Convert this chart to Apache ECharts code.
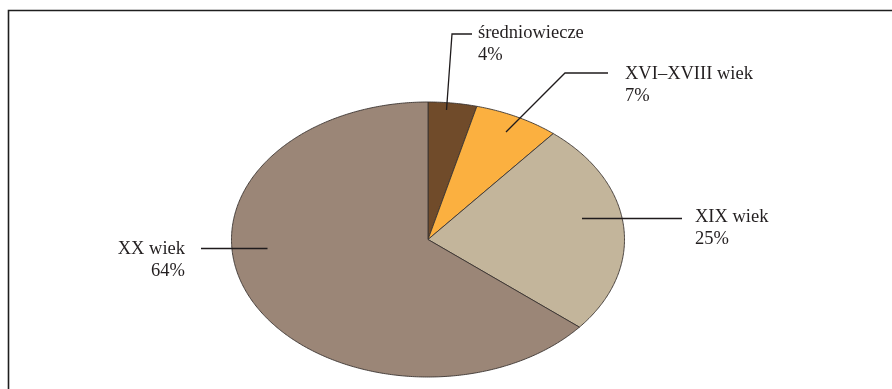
<!DOCTYPE html>
<html>
<head>
<meta charset="utf-8">
<script src="https://cdn.jsdelivr.net/npm/echarts@6/dist/echarts.min.js"></script>
<style>
  html, body { margin: 0; padding: 0; background: #fff; }
  #chart { width: 892px; height: 389px; }
</style>
</head>
<body>
<div id="chart"></div>
<script>
// dane (udział w %)
const names = ['średniowiecze', 'XVI–XVIII wiek', 'XIX wiek', 'XX wiek'];
const values = [4, 7, 25, 64];
const colors = ['#704b2a', '#fbb040', '#c3b59b', '#9b8677'];

// geometria elipsy
const cx = 428, cy = 239.5, rx = 196.5, ry = 137.5;

// rozmieszczenie etykiet (linie odniesienia + tekst)
const labelLayout = [
  { line: [[446.5, 110], [452, 34], [472, 34]], x: 478, y: 43, align: 'left' },
  { line: [[506, 132], [565, 73], [608, 73]], x: 625, y: 84, align: 'left' },
  { line: [[582, 218.5], [682, 218.5]], x: 695, y: 227, align: 'left' },
  { line: [[267.5, 248.5], [201, 248.5]], x: 185, y: 259, align: 'right' }
];

const total = values.reduce((a, b) => a + b, 0);
const cum = [0];
values.forEach((v, i) => cum.push(cum[i] + v));

function renderItem(params, api) {
  const i = params.dataIndex;
  const a0 = cum[i] / total * Math.PI * 2;
  const a1 = cum[i + 1] / total * Math.PI * 2;
  const steps = Math.max(6, Math.ceil((a1 - a0) / 0.01));
  const pts = [[cx, cy]];
  for (let k = 0; k <= steps; k++) {
    const a = a0 + (a1 - a0) * k / steps;
    pts.push([cx + rx * Math.sin(a), cy - ry * Math.cos(a)]);
  }
  return {
    type: 'polygon',
    shape: { points: pts },
    style: { fill: colors[i], stroke: '#3b3431', lineWidth: 0.9 }
  };
}

const font = '18.5px "Liberation Serif", "Times New Roman", serif';
const graphics = [
  {
    type: 'rect',
    shape: { x: 8.5, y: 10.5, width: 900, height: 400 },
    style: { fill: 'none', stroke: '#1e1e1e', lineWidth: 1.6 },
    silent: true
  }
];
labelLayout.forEach((lb, i) => {
  graphics.push({
    type: 'polyline',
    shape: { points: lb.line },
    style: { stroke: '#1f1b1c', lineWidth: 1.3, fill: 'none' },
    z: 10
  });
  [names[i], values[i] + '%'].forEach((t, j) => {
    graphics.push({
      type: 'text',
      x: lb.x,
      y: lb.y + j * 21.7,
      style: {
        text: t,
        font: font,
        fill: '#231f20',
        align: lb.align,
        verticalAlign: 'bottom'
      },
      z: 10
    });
  });
});

const myChart = echarts.init(document.getElementById('chart'), null, { renderer: 'canvas' });
const option = {
  animation: false,
  backgroundColor: '#fff',
  series: [
    {
      type: 'custom',
      coordinateSystem: 'none',
      renderItem: renderItem,
      data: values.map((v, i) => ({ name: names[i], value: v }))
    }
  ],
  graphic: graphics
};
myChart.setOption(option);
</script>
</body>
</html>
